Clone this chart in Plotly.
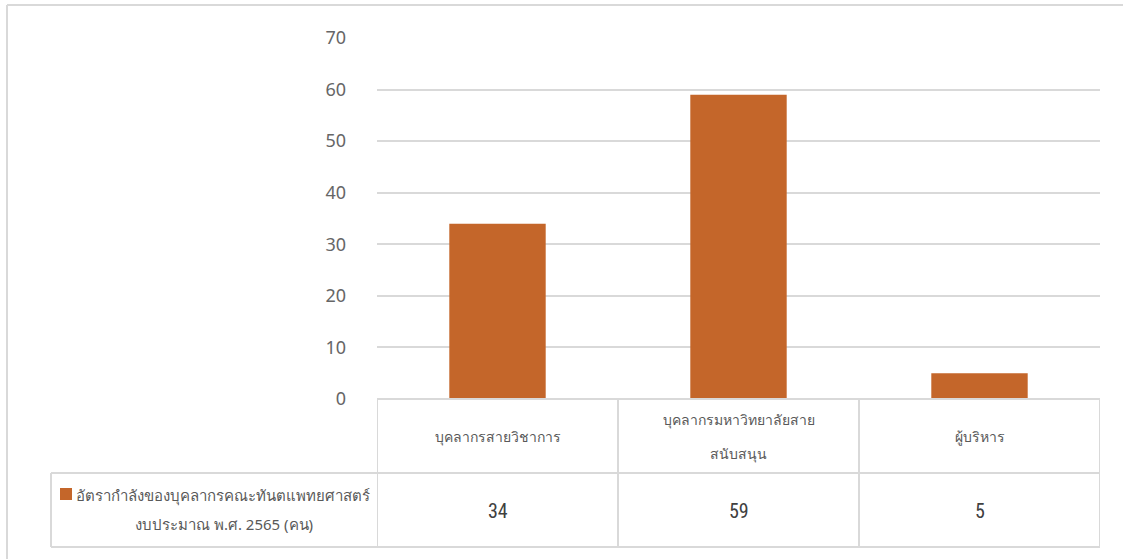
import plotly.graph_objects as go

categories = ["บุคลากรสายวิชาการ", "บุคลากรมหาวิทยาลัยสาย\nสนับสนุน", "ผู้บริหาร"]
values = [34, 59, 5]
series_name_lines = ["อัตรากำลังของบุคลากรคณะทันตแพทยศาสตร์", "งบประมาณ พ.ศ. 2565 (คน)"]
y_ticks = [0, 10, 20, 30, 40, 50, 60, 70]

W, H = 1123, 559
BAR = "#C4662A"
GRID = "#D9D9D9"
TXT = "#595959"
FONT = "Noto Sans, Tahoma, sans-serif"

def px(x):
    return x / W

def py(y):
    return 1 - y / H

x_idx = list(range(len(categories)))

fig = go.Figure()
fig.add_trace(go.Bar(x=x_idx, y=values, marker=dict(color=BAR, line=dict(width=0)),
                     showlegend=False, hoverinfo="skip"))

y_top, y_zero = 38, 399
row1_bot, row2_bot = 473, 547
left_tab = 51

fig.update_layout(
    width=W, height=H,
    margin=dict(l=0, r=0, t=0, b=0, pad=0, autoexpand=False),
    paper_bgcolor="white", plot_bgcolor="white",
    bargap=0.6,
    xaxis=dict(domain=[px(377), px(1100)], range=[-0.5, len(categories) - 0.5],
               showticklabels=False, showgrid=False, zeroline=False, showline=False),
    yaxis=dict(domain=[py(y_zero), py(y_top)], range=[0, 70], tickvals=y_ticks,
               showgrid=True, gridcolor=GRID, gridwidth=1.5, zeroline=False, showline=False,
               ticks="", ticklabelstandoff=30,
               tickfont=dict(family=FONT, size=18, color="#666666")),
)

shapes = []
line = dict(color=GRID, width=2)
# outer chart border (left, top)
shapes.append(dict(type="line", xref="paper", yref="paper", x0=px(7), x1=px(7), y0=py(5), y1=0, line=line))
shapes.append(dict(type="line", xref="paper", yref="paper", x0=px(7), x1=1, y0=py(5), y1=py(5), line=line))
# table horizontal lines
shapes.append(dict(type="line", xref="x", yref="paper", x0=-0.5, x1=len(categories) - 0.5, y0=py(y_zero), y1=py(y_zero), line=line))
shapes.append(dict(type="line", xref="paper", yref="paper", x0=px(left_tab), x1=px(1100), y0=py(row1_bot), y1=py(row1_bot), line=line))
shapes.append(dict(type="line", xref="paper", yref="paper", x0=px(left_tab), x1=px(1100), y0=py(row2_bot), y1=py(row2_bot), line=line))
# vertical lines
for b in [i - 0.5 for i in range(len(categories) + 1)]:
    shapes.append(dict(type="line", xref="x", yref="paper", x0=b, x1=b, y0=py(y_zero), y1=py(row2_bot), line=line))
shapes.append(dict(type="line", xref="paper", yref="paper", x0=px(left_tab), x1=px(left_tab), y0=py(row1_bot), y1=py(row2_bot), line=line))
# legend key
shapes.append(dict(type="rect", xref="paper", yref="paper", x0=px(60), x1=px(72), y0=py(500), y1=py(488),
                   fillcolor=BAR, line=dict(width=0)))
fig.update_layout(shapes=shapes)

ann = []
mid1 = (y_zero + row1_bot) / 2
for i, (c, v) in enumerate(zip(categories, values)):
    parts = c.split("\n")
    n = len(parts)
    for k, p in enumerate(parts):
        yy = mid1 + (k - (n - 1) / 2) * 34
        ann.append(dict(x=i, y=py(yy), xref="x", yref="paper", text=p, showarrow=False,
                        font=dict(family=FONT, size=14, color=TXT), xanchor="center", yanchor="middle"))
    ann.append(dict(x=i, y=py((row1_bot + row2_bot) / 2 + 1), xref="x", yref="paper", text=str(v), showarrow=False,
                    font=dict(family="Liberation Sans Narrow, Roboto Condensed, sans-serif", size=20, color="#404040"),
                    xanchor="center", yanchor="middle"))
ann.append(dict(x=px(223), y=py(495), xref="paper", yref="paper", text=series_name_lines[0], showarrow=False,
                font=dict(family=FONT, size=15, color=TXT), xanchor="center", yanchor="middle"))
ann.append(dict(x=px(224), y=py(524), xref="paper", yref="paper", text=series_name_lines[1], showarrow=False,
                font=dict(family=FONT, size=15, color=TXT), xanchor="center", yanchor="middle"))
fig.update_layout(annotations=ann)

fig.write_html("out.html")
